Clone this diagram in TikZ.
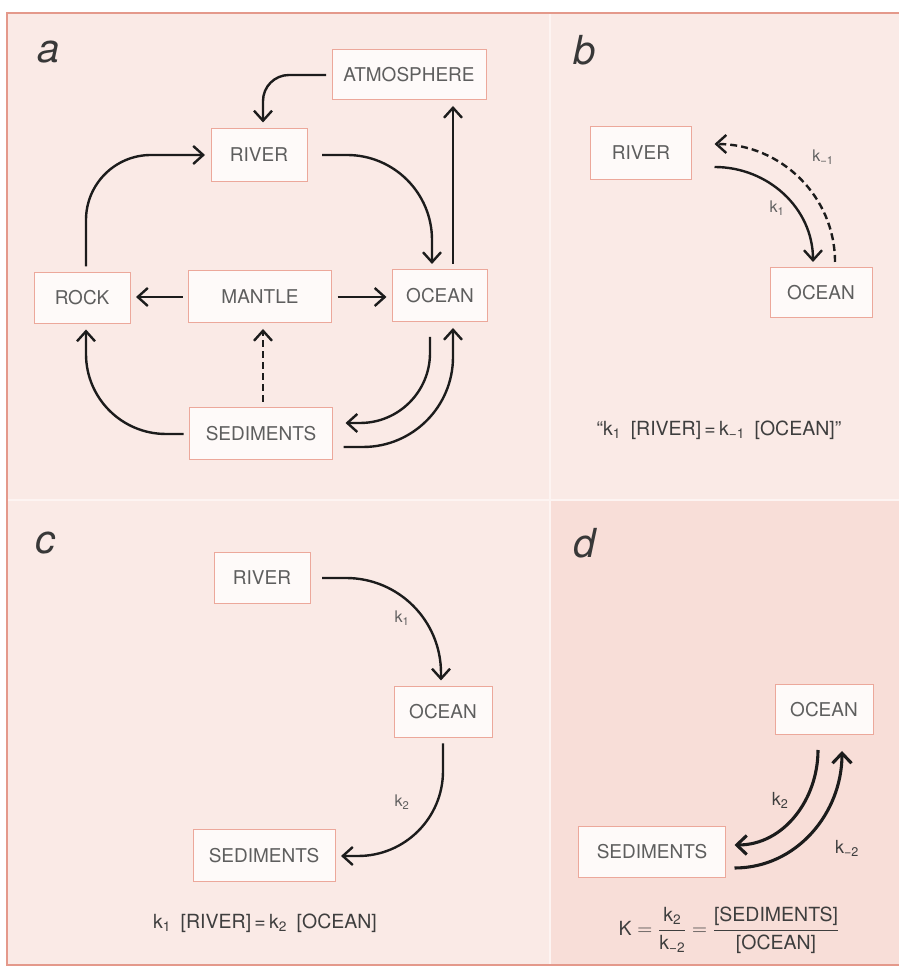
\documentclass[tikz,border=0pt]{standalone}
\usepackage{fontspec}
\setmainfont{TeX Gyre Heros}
\usetikzlibrary{arrows.meta}

\definecolor{paper}{HTML}{FAEAE6}
\definecolor{paperd}{HTML}{F8DED8}
\definecolor{frame}{HTML}{E4998B}
\definecolor{divider}{HTML}{FDF4F2}
\definecolor{boxline}{HTML}{ECA89B}
\definecolor{boxfill}{HTML}{FEFAF9}
\definecolor{ink}{HTML}{1C1C1C}
\definecolor{labelgrey}{HTML}{5E5E5E}
\definecolor{eqgrey}{HTML}{3E3E3E}
\definecolor{lettergrey}{HTML}{383838}

\newcommand{\boxfont}{\fontsize{19}{22}\selectfont}
\newcommand{\eqfont}{\fontsize{19.5}{22}\selectfont}
\newcommand{\kfont}{\fontsize{16}{18}\selectfont}
\newcommand{\kbigfont}{\fontsize{18}{20}\selectfont}
\newcommand{\letterfont}{\fontsize{40}{44}\selectfont\itshape}

\tikzset{
  box/.style={draw=boxline, fill=boxfill, line width=1pt, text=labelgrey,
    font=\boxfont, inner sep=0pt, outer sep=6pt, minimum height=#1},
  box/.default=51pt,
  arr/.style={draw=ink, line width=2.4pt, -{Straight Barb[length=10pt,width=18pt]}},
  thickarr/.style={draw=ink, line width=3.1pt, -{Straight Barb[length=10pt,width=19pt]}},
  dashedarr/.style={arr, dash pattern=on 7pt off 4pt},
  klabel/.style={text=labelgrey, font=\kfont, inner sep=0pt},
  kbig/.style={text=eqgrey, font=\kbigfont, inner sep=0pt},
  eqn/.style={text=eqgrey, font=\eqfont, inner sep=0pt},
  panelletter/.style={text=lettergrey, font=\letterfont, inner sep=0pt},
}

\begin{document}
\begin{tikzpicture}[x=1pt,y=1pt]
\useasboundingbox (0,0) rectangle (899,969);

% paper, the pinker fourth quarter, dividers and frame
\fill[paper] (7,4) rectangle (899,956);
\fill[paperd] (550,4) rectangle (899,469);
\draw[divider, line width=2.5pt] (550,4) -- (550,956);
\draw[divider, line width=2.5pt] (7,469) -- (899,469);
\draw[frame, line width=1.5pt] (899,956) -- (7,956) -- (7,4) -- (899,4);

% ---------- a: the full cycle ----------
\node[panelletter] (la) at (49,917) {a};
\node[box=50pt, minimum width=154pt] (atm) at (409,894) {ATMOSPHERE};
\node[box=53pt, minimum width=96pt] (rivA) at (259,814) {RIVER};
\node[box, minimum width=96pt] (rock) at (82,671) {ROCK};
\node[box=52pt, minimum width=143pt] (mantle) at (260,672) {MANTLE};
\node[box=52pt, minimum width=95pt] (oceanA) at (440,673) {OCEAN};
\node[box=52pt, minimum width=143pt] (sedA) at (261,535) {SEDIMENTS};

\draw[arr, rounded corners=26pt] (atm.west) -| ([xshift=4pt]rivA.north);
\draw[arr, rounded corners=65pt] ([xshift=4pt]rock.north) |- (rivA.west);
\draw[arr, rounded corners=85pt] ([xshift=9pt]rivA.east) -| ([xshift=-8pt]oceanA.north);
\draw[arr] ([xshift=13pt]oceanA.north) -- ([xshift=13pt]oceanA.north |- atm.south);
\draw[arr] (mantle.west) -- (mantle.west -| rock.east);
\draw[arr] (mantle.east) -- (mantle.east -| oceanA.west);
\draw[dashedarr] ([xshift=2pt]sedA.north) -- ([xshift=2pt]sedA.north |- mantle.south);
\draw[arr, rounded corners=80pt] (sedA.west) -| ([xshift=4pt]rock.south);
\draw[arr, rounded corners=70pt] ([xshift=-10pt,yshift=-9pt]oceanA.south) |- ([xshift=7pt,yshift=11pt]sedA.east);
\draw[arr, rounded corners=90pt] ([xshift=5pt,yshift=-13pt]sedA.east) -| ([xshift=13pt]oceanA.south);

% ---------- b: river and ocean, both ways ----------
\node[panelletter] (lb) at (585,919) {b};
\node[box=53pt, minimum width=101pt] (rivB) at (641,816) {RIVER};
\node[box=50pt, minimum width=102pt] (ocB) at (821,676) {OCEAN};

\draw[arr] ([xshift=17pt,yshift=-14pt]rivB.east) to[out=0,in=90] ([xshift=-8pt]ocB.north);
\draw[dashedarr] ([xshift=14pt]ocB.north) to[out=90,in=0] ([xshift=17pt,yshift=9pt]rivB.east);
\node[klabel] (kbm1) at (823,812) {k\textsubscript{−1}};
\node[klabel] (kb1) at (777,761) {k\textsubscript{1}};
\node[eqn] (eqb) at (719,539)
  {“k\textsubscript{1}\enspace[RIVER]\,=\,k\textsubscript{−1}\enspace[OCEAN]”};

% ---------- c: river, ocean, sediments ----------
\node[panelletter] (lc) at (45,426) {c};
\node[box, minimum width=96pt] (rivC) at (262,391) {RIVER};
\node[box, minimum width=98pt] (ocC) at (443,257) {OCEAN};
\node[box=52pt, minimum width=142pt] (sedC) at (264,113) {SEDIMENTS};

\draw[arr, rounded corners=95pt] ([xshift=6pt]rivC.east) -| ([xshift=-2pt]ocC.north);
\draw[arr, rounded corners=85pt] (ocC.south) |- (sedC.east);
\node[klabel] (kc1) at (402,351) {k\textsubscript{1}};
\node[klabel] (kc2) at (402,167) {k\textsubscript{2}};
\node[eqn] (eqc) at (265,46)
  {k\textsubscript{1}\enspace[RIVER]\,=\,k\textsubscript{2}\enspace[OCEAN]};

% ---------- d: ocean and sediments in equilibrium ----------
\node[panelletter] (ld) at (585,426) {d};
\node[box=50pt, minimum width=98pt] (ocD) at (824,259) {OCEAN};
\node[box, minimum width=147pt] (sedD) at (652,117) {SEDIMENTS};

\draw[thickarr] ([xshift=-6pt,yshift=-9pt]ocD.south) to[out=-90,in=0] ([xshift=3pt,yshift=7pt]sedD.east);
\draw[thickarr] ([xshift=3pt,yshift=-16pt]sedD.east) to[out=0,in=-90] ([xshift=18pt,yshift=-10pt]ocD.south);
\node[kbig] (kd2) at (780,169) {k\textsubscript{2}};
\node[kbig] (kdm2) at (847,121) {k\textsubscript{−2}};
\node[eqn] (eqd) at (729,39)
  {$\displaystyle \mbox{K}=\frac{\mbox{k\textsubscript{2}}}{\mbox{k\textsubscript{−2}}}=\frac{\mbox{[SEDIMENTS]}}{\mbox{[OCEAN]}}$};
\end{tikzpicture}
\end{document}
